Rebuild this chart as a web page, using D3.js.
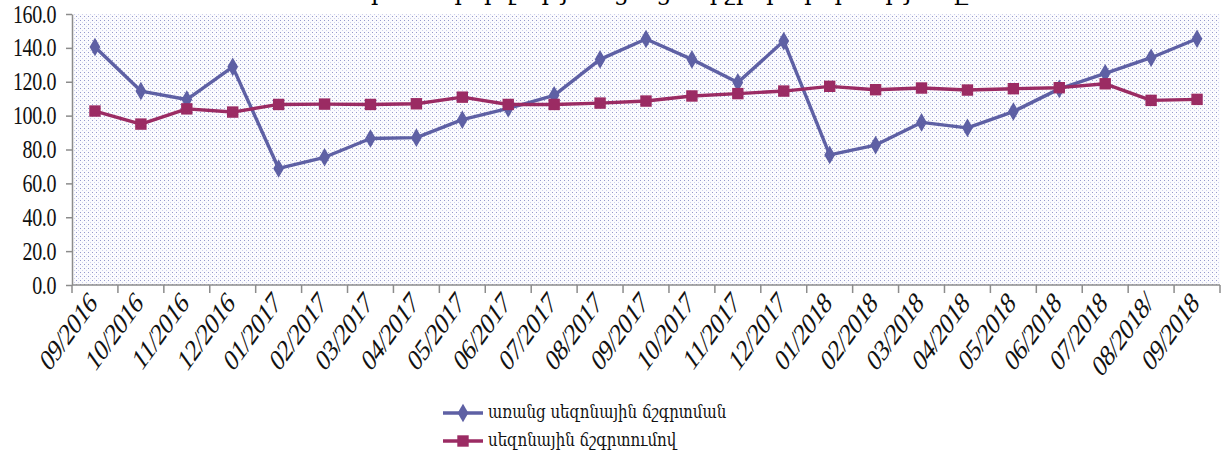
<!DOCTYPE html>
<html>
<head>
	<title>line chart</title>
	<script src="https://d3js.org/d3.v7.min.js"></script>
	<style>
		body { margin: 0; background: white; }
	</style>
</head>
<body>
	<svg width="1224" height="461"></svg>
	<script type="text/javascript">

		// months on the x axis
		var months = ['09/2016', '10/2016', '11/2016', '12/2016', '01/2017', '02/2017', '03/2017', '04/2017',
			'05/2017', '06/2017', '07/2017', '08/2017', '09/2017', '10/2017', '11/2017', '12/2017',
			'01/2018', '02/2018', '03/2018', '04/2018', '05/2018', '06/2018', '07/2018', '08/2018/', '09/2018'];

		// without seasonal adjustment
		var rawValues = [140.5, 114.5, 109.5, 128.8, 68.8, 75.4, 86.5, 87.0, 97.6, 104.3, 112.0, 133.2,
			145.2, 133.2, 119.6, 144.0, 76.8, 82.6, 96.0, 92.8, 102.4, 115.8, 125.0, 134.2, 145.4];

		// seasonally adjusted
		var adjValues = [102.7, 95.0, 104.0, 102.1, 106.6, 106.8, 106.6, 107.0, 110.9, 106.6, 106.6, 107.4,
			108.6, 111.6, 113.0, 114.5, 117.3, 115.3, 116.3, 115.1, 115.9, 116.5, 118.8, 109.0, 109.6];

		var yTicks = [0, 20, 40, 60, 80, 100, 120, 140, 160];

		var seriesNames = ['առանց սեզոնային ճշգրտման', 'սեզոնային ճշգրտումով'];
		var colors = ['#5e60a4', '#9b2b63'];

		// plot area (don't call it "top", window.top is read only)
		var pLeft = 72, pRight = 1220, pTop = 14, pBottom = 285;
		var svg = d3.select('svg');

		svg.append('rect').attr('width', 1224).attr('height', 461).attr('fill', 'white');

		// dotted plot area fill
		var pat = svg.append('defs').append('pattern')
			.attr('id', 'dots')
			.attr('patternUnits', 'userSpaceOnUse')
			.attr('width', 4).attr('height', 4);
		pat.append('rect').attr('width', 4).attr('height', 4).attr('fill', '#fbfbfe');
		pat.append('rect').attr('x', 0).attr('y', 0).attr('width', 1).attr('height', 1).attr('fill', '#9599cc');
		pat.append('rect').attr('x', 2).attr('y', 2).attr('width', 1).attr('height', 1).attr('fill', '#cfd2ec');

		var xScale = d3.scaleBand()
			.domain(months)
			.range([pLeft, pRight]);
		var yScale = d3.scaleLinear()
			.domain([0, 160])
			.range([pBottom, pTop]);

		svg.append('rect')
			.attr('x', pLeft).attr('y', pTop)
			.attr('width', pRight - pLeft).attr('height', pBottom - pTop)
			.attr('fill', 'url(#dots)');

		// title, cut off by the top edge of the picture
		svg.append('text')
			.attr('x', 612).attr('y', 0)
			.attr('text-anchor', 'middle')
			.attr('font-family', 'DejaVu Serif')
			.attr('font-size', 24)
			.text('Տնտեսական ակտիվության ցուցանիշի փոփոխությունը');

		// y axis
		var yAxis = d3.axisLeft(yScale)
			.tickValues(yTicks)
			.tickFormat(d3.format('.1f'))
			.tickSizeInner(6).tickSizeOuter(0).tickPadding(11);
		var gy = svg.append('g')
			.attr('transform', 'translate(' + pLeft + ',0)')
			.call(yAxis);
		gy.selectAll('line, path').attr('stroke', '#8c8c8c').attr('stroke-width', 1.5);
		gy.selectAll('text')
			.attr('x', -20)
			.attr('transform', 'scale(0.8,1)')
			.attr('font-family', 'Liberation Serif')
			.attr('font-size', 25)
			.attr('fill', '#111')
			.style('letter-spacing', '-0.5px');

		// x axis, ticks between the categories
		var gx = svg.append('g')
			.attr('transform', 'translate(0,' + pBottom + ')');
		gx.append('line')
			.attr('x1', pLeft).attr('x2', pRight)
			.attr('stroke', '#8c8c8c').attr('stroke-width', 1.5);
		gx.selectAll('.tick')
			.data(months.concat(['end']))
			.enter().append('line')
			.attr('x1', (d, i) => pLeft + i * xScale.step())
			.attr('x2', (d, i) => pLeft + i * xScale.step())
			.attr('y1', 0).attr('y2', 8)
			.attr('stroke', '#8c8c8c').attr('stroke-width', 1.5);
		// labels drawn at 45 degrees and squeezed sideways like the original
		gx.selectAll('text')
			.data(months)
			.enter().append('text')
			.attr('transform', d => 'translate(' + (xScale(d) + xScale.bandwidth() / 2 + 3) + ',20) scale(0.72,1) rotate(-45)')
			.attr('text-anchor', 'end')
			.attr('font-family', 'Liberation Serif')
			.attr('font-size', 31)
			.attr('fill', '#111')
			.style('letter-spacing', '-0.8px')
			.text(d => d);

		var xc = d => xScale(d) + xScale.bandwidth() / 2;
		var line = d3.line()
			.x((d, i) => xc(months[i]))
			.y(d => yScale(d));

		var diamond = d3.symbol().type(d3.symbolDiamond).size(100);
		var square = d3.symbol().type(d3.symbolSquare).size(130);

		function drawSeries(values, color, sym) {
			svg.append('path')
				.datum(values)
				.attr('d', line)
				.attr('fill', 'none')
				.attr('stroke', color)
				.attr('stroke-width', 3.4)
				.attr('stroke-linejoin', 'round');
			svg.append('g').selectAll('path')
				.data(values)
				.enter().append('path')
				.attr('transform', (d, i) => 'translate(' + xc(months[i]) + ',' + yScale(d) + ')')
				.attr('d', sym)
				.attr('fill', color);
		}

		drawSeries(rawValues, colors[0], diamond);
		drawSeries(adjValues, colors[1], square);

		// legend
		var legend = svg.append('g')
			.selectAll('g')
			.data(seriesNames)
			.enter().append('g')
			.attr('transform', (d, i) => 'translate(443,' + (413 + i * 28) + ')');

		legend.append('line')
			.attr('x1', 0).attr('x2', 40)
			.attr('stroke', (d, i) => colors[i])
			.attr('stroke-width', 3.4);
		legend.append('path')
			.attr('transform', 'translate(20,0)')
			.attr('d', (d, i) => (i == 0 ? diamond : square)())
			.attr('fill', (d, i) => colors[i]);
		legend.append('text')
			.attr('transform', 'translate(45,5) scale(0.94,1.2)')
			.attr('font-family', 'DejaVu Serif')
			.attr('font-size', 16)
			.attr('fill', '#111')
			.text(d => d);

	</script>
</body>
</html>
